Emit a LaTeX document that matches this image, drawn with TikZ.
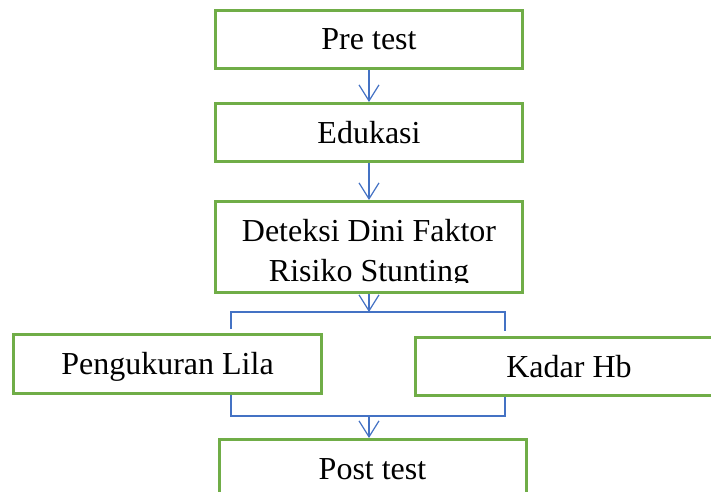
\documentclass[tikz,border=0pt]{standalone}
\usepackage{fontspec}
\setmainfont{Liberation Serif}
\usepackage{xcolor}
\usepackage{tikz}
\usetikzlibrary{arrows.meta}

\definecolor{boxgreen}{RGB}{112,173,71}
\definecolor{linkblue}{RGB}{68,114,196}

\begin{document}
\begin{tikzpicture}[x=0.75pt,y=-0.75pt,
    box/.style={draw=boxgreen,line width=2.25pt,inner sep=0pt,
        minimum width=230.25pt,minimum height=43.5pt,
        font=\fontsize{24}{30}\selectfont,text height=15.75pt,text depth=0pt},
    link/.style={draw=linkblue,line width=0.9pt},
    tip/.style={-{Straight Barb[length=12pt,width=15pt]}}]
    \useasboundingbox (0,0) rectangle (711,492);
        % boxes
    \node[box] (pre) at (369,39.5) {Pre test};
    \node[box] (edu) at (369,132.5) {Edukasi};
    \node[box,minimum height=68.25pt] (det) at (369,247) {};
    \begin{scope}
        \clip (216,202) rectangle (522,282);
        \node[font=\fontsize{24}{30}\selectfont,align=center] (dettext) at (369,254)
            {Deteksi Dini Faktor\\Risiko Stunting};
    \end{scope}
    \node[box,minimum width=231pt,minimum height=44.25pt] (lila) at (167.5,364) {Pengukuran Lila};
    \node[box] (hb) at (569,366.5) {Kadar Hb};
    \node[box] (post) at (372.5,468.5) {Post test};
        % branch points
    \coordinate (split) at (369,312);
    \coordinate (splitL) at (231,312);
    \coordinate (splitR) at (505,312);
    \coordinate (tickL) at (231,329);
    \coordinate (tickR) at (505,331);
    \coordinate (joinL) at (231,416);
    \coordinate (joinR) at (505,416);
    \coordinate (join) at (369,416);
        % connectors
    \draw[link,tip] (pre) -- (edu);
    \draw[link,tip] (edu) -- (det);
    \draw[link,tip] (det) -- (split);
    \draw[link] (tickL) -- (splitL) -- (splitR) -- (tickR);
    \draw[link] (lila.south -| joinL) -- (joinL) -- (joinR) -- (hb.south -| joinR);
    \draw[link,tip] (join) -- (join |- post.north);
\end{tikzpicture}
\end{document}
